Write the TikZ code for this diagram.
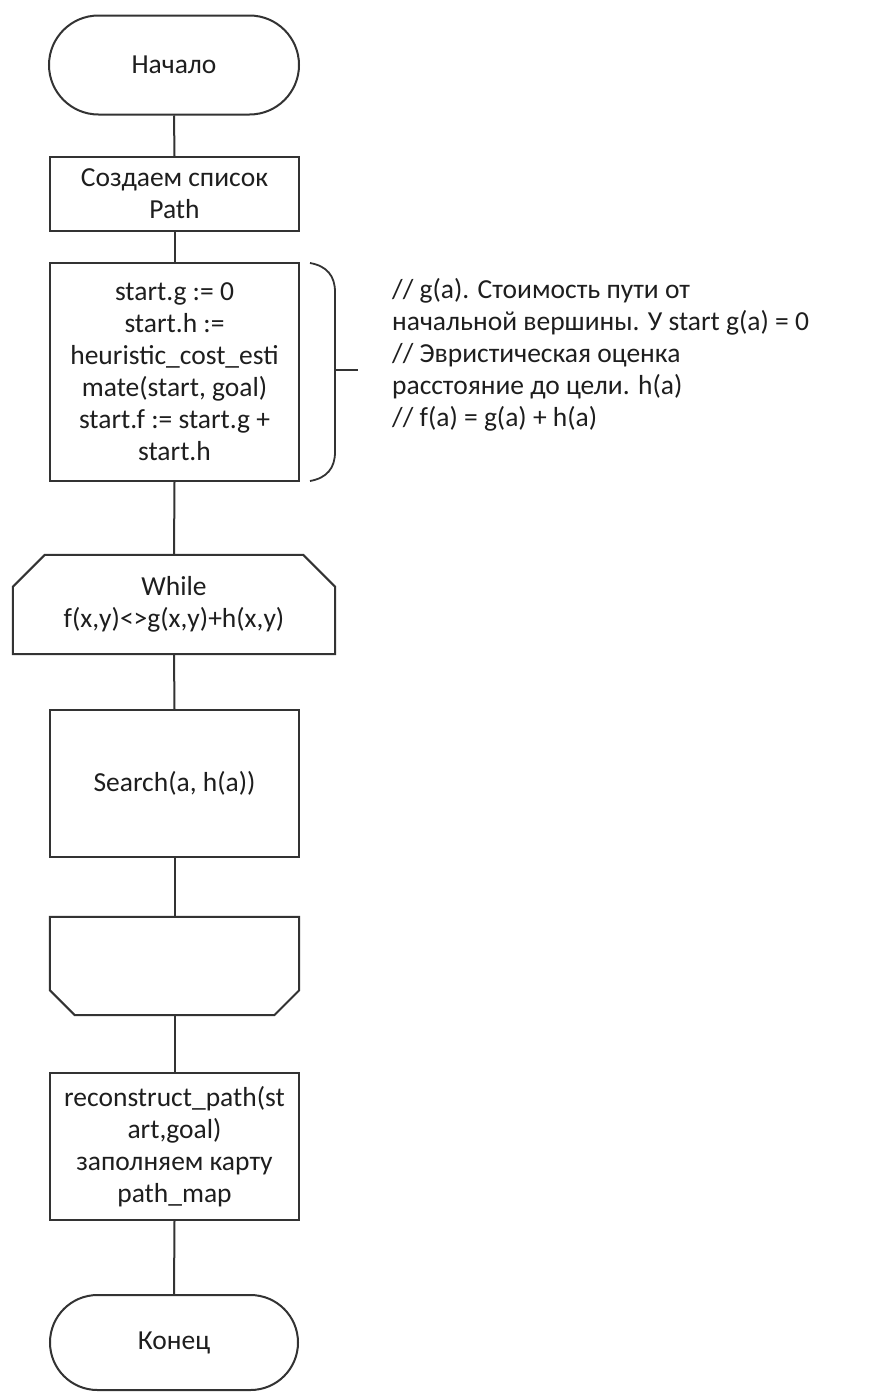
\documentclass[tikz,border=0pt]{standalone}
\usepackage{fontspec}
\setmainfont{Carlito}
\usetikzlibrary{shapes.misc}
\definecolor{ln}{HTML}{333333}
\definecolor{tx}{HTML}{1E1E1E}
\begin{document}
\begin{tikzpicture}[x=1pt,y=-1pt,
  every node/.style={font=\fontsize{27.5}{32}\selectfont, text=tx},
  base/.style={draw=ln, line width=2pt, inner sep=0pt, align=center},
  term/.style={base, rounded rectangle, minimum width=250pt, minimum height=99pt},
  proc/.style={base, rectangle, minimum width=249pt},
  hidden/.style={inner sep=0pt, align=center},
  conn/.style={draw=ln, line width=2pt, line join=miter}
]
\useasboundingbox (0,0) rectangle (887,1392);
\fill[white] (0,0) rectangle (887,1392);

\node[term] (start) at (174,65) {Начало};
\node[proc, minimum height=74pt] (p1) at (174.5,194) {Создаем список\\Path};
\node[proc, minimum height=218pt] (p2) at (174.5,372) {start.g := 0\\start.h :=\\heuristic\_cost\_esti\\mate(start, goal)\\start.f := start.g +\\start.h};
\node[hidden, minimum width=322pt, minimum height=99pt] (loop) at (174,604.5) {While\\f(x,y)<>g(x,y)+h(x,y)};
\draw[conn] ([yshift=-32pt]loop.north west) -- ([xshift=32pt]loop.north west) -- ([xshift=-32pt]loop.north east) -- ([yshift=-32pt]loop.north east) -- (loop.south east) -- (loop.south west) -- cycle;
\node[proc, minimum height=147pt] (search) at (174.5,783.5) {Search(a, h(a))};
\node[hidden, minimum width=249pt, minimum height=98pt] (lend) at (174.5,966) {};
\draw[conn] (lend.north west) -- (lend.north east) -- ([yshift=25pt]lend.south east) -- ([xshift=-25pt]lend.south east) -- ([xshift=25pt]lend.south west) -- ([yshift=25pt]lend.south west) -- cycle;
\node[proc, minimum height=147pt] (rec) at (174.5,1146.5) {reconstruct\_path(st\\art,goal)\\заполняем карту\\path\_map};
\node[term, minimum height=95pt, minimum width=248pt] (stop) at (174,1342.5) {Конец};

\draw[conn] (start.south) -- (p1.north);
\draw[conn] (p1.south) -- (p2.north);
\draw[conn] (p2.south) -- (loop.north);
\draw[conn] (loop.south) -- (search.north);
\draw[conn] (search.south) -- (lend.north);
\draw[conn] (lend.south) -- (rec.north);
\draw[conn] (rec.south) -- (stop.north);

% annotation bracket
\coordinate (bt) at (310,263);
\coordinate (bb) at (310,481);
\coordinate (bm) at (335,370);
\draw[conn, line width=1.8pt] (bt) .. controls (327,266) and (335,276) .. (335,292) -- (335,452) .. controls (335,468) and (327,478) .. (bb);
\coordinate (tk) at (358,370);
\draw[conn, line width=1.8pt] (bm) -- (tk);
\node[anchor=west, align=left, inner sep=0pt] (note) at (392,355) {// g(a). Стоимость пути от\\начальной вершины. У start g(a) = 0\\// Эвристическая оценка\\расстояние до цели. h(a)\\// f(a) = g(a) + h(a)};
\end{tikzpicture}
\end{document}
